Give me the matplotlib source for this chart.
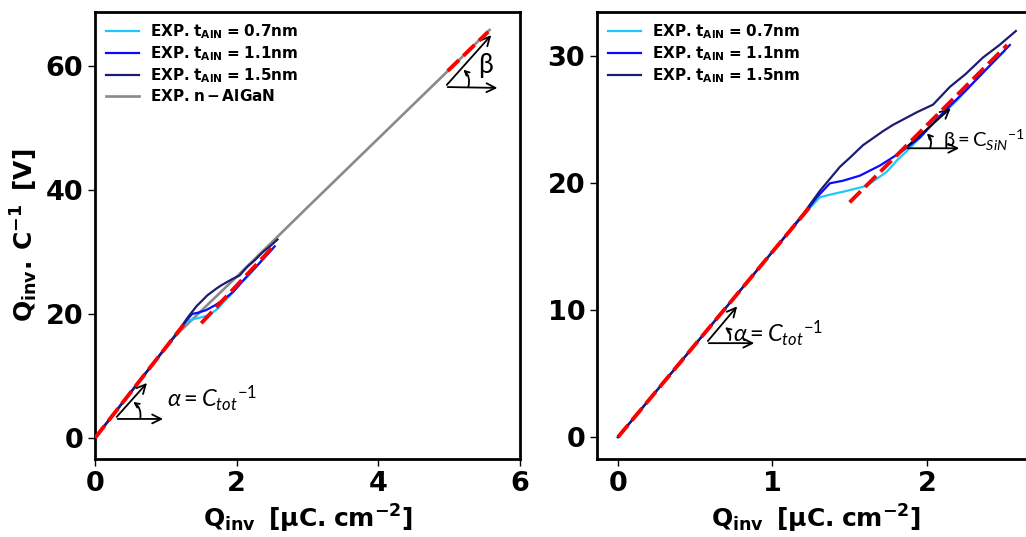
import matplotlib
matplotlib.use("Agg")
import matplotlib.pyplot as plt
import numpy as np

plt.rcParams['mathtext.fontset'] = 'custom'
plt.rcParams['mathtext.rm'] = 'Lato'
plt.rcParams['mathtext.it'] = 'Lato:italic'
plt.rcParams['mathtext.bf'] = 'DejaVu Sans:bold'
plt.rcParams['mathtext.sf'] = 'DejaVu Sans'
plt.rcParams['mathtext.default'] = 'bf'
plt.rcParams['font.family'] = ['DejaVu Sans']

# ---------------- data ----------------
# Q_inv [uC/cm^2] vs Q_inv/C [V]
q_07 = [0, 0.5, 1.0, 1.2, 1.307, 1.372, 1.48, 1.61, 1.74, 1.806, 1.9, 2.0, 2.2, 2.4, 2.5]
v_07 = [0, 7.3, 14.6, 17.5, 18.9, 19.1, 19.4, 19.8, 20.9, 21.8, 22.9, 24.2, 26.6, 29.2, 30.4]

q_11 = [0, 0.5, 1.0, 1.2, 1.288, 1.372, 1.456, 1.566, 1.696, 1.825, 1.955, 2.084, 2.149,
        2.25, 2.362, 2.45, 2.537]
v_11 = [0, 7.3, 14.6, 17.5, 18.9, 20.0, 20.2, 20.6, 21.4, 22.4, 23.6, 25.3, 26.1,
        27.3, 28.7, 29.8, 30.9]

q_15 = [0, 0.5, 1.0, 1.113, 1.2, 1.307, 1.437, 1.5, 1.586, 1.715, 1.78, 1.935, 2.04,
        2.149, 2.25, 2.362, 2.47, 2.576]
v_15 = [0, 7.3, 14.6, 16.3, 17.6, 19.4, 21.3, 22.0, 23.0, 24.1, 24.6, 25.6, 26.2,
        27.6, 28.6, 29.9, 30.9, 32.0]

q_algan = [0, 0.5, 1.0, 1.1, 1.2, 1.5, 2.0, 3.0, 4.0, 5.0, 5.57]
v_algan = [0, 7.3, 14.6, 16.0, 17.2, 20.5, 26.0, 37.2, 48.3, 59.4, 65.8]

# linear fits (red dashed)
fit_tot_q = [0, 1.25]
fit_tot_v = [0, 18.25]
fit_sin_q = [1.5, 2.52]
fit_sin_v = [18.5, 30.9]
fit_algan_q = [4.98, 5.55]
fit_algan_v = [59.2, 65.5]

labels = [r'$EXP.\,t_{AlN}\,{=}\,0.7nm$', r'$EXP.\,t_{AlN}\,{=}\,1.1nm$',
          r'$EXP.\,t_{AlN}\,{=}\,1.5nm$', r'$EXP.\,n-AlGaN$']
colors = ['#1ec8ff', '#0a0aff', '#1c1c72', '#8a8a8a']

left_xticks = [0, 2, 4, 6]
left_yticks = [0, 20, 40, 60]
right_xticks = [0, 1, 2]
right_yticks = [0, 10, 20, 30]

# ---------------- figure ----------------
W, H = 1026, 537
fig = plt.figure(figsize=(W / 100, H / 100), dpi=100)
ax1 = fig.add_axes([95 / W, 1 - 459 / H, 425 / W, 447 / H])
ax2 = fig.add_axes([597 / W, 1 - 459 / H, 438 / W, 447 / H])

lw = 1.6
red_kw = dict(color='red', lw=2.8, linestyle=(0, (4, 1.6)), zorder=5)

series = [(q_07, v_07), (q_11, v_11), (q_15, v_15)]
for ax in (ax1, ax2):
    for (q, v), c, lab in zip(series, colors[:3], labels[:3]):
        ax.plot(q, v, color=c, lw=lw, label=lab)

ax1.plot(q_algan, v_algan, color=colors[3], lw=lw + 0.3, label=labels[3], zorder=1.9)

for ax in (ax1, ax2):
    ax.plot(fit_tot_q, fit_tot_v, **red_kw)
    ax.plot(fit_sin_q, fit_sin_v, **red_kw)
ax1.plot(fit_algan_q, fit_algan_v, **red_kw)

ax1.set_xlim(0, 6)
ax1.set_ylim(-3.4, 68.7)
ax2.set_xlim(-0.136, 2.70)
ax2.set_ylim(-1.73, 33.5)

ax1.set_xticks(left_xticks)
ax1.set_yticks(left_yticks)
ax2.set_xticks(right_xticks)
ax2.set_yticks(right_yticks)

for ax in (ax1, ax2):
    for s in ax.spines.values():
        s.set_linewidth(2.0)
    ax.tick_params(labelsize=19.5, width=1.0, length=5)
    for t in ax.get_xticklabels() + ax.get_yticklabels():
        t.set_fontweight('bold')
    ax.set_xlabel(r'$Q_{inv}\ \ [\mu C.\,cm^{-2}]$', fontsize=18)
    ax.legend(loc='upper left', frameon=False, fontsize=11, handlelength=2.2,
              labelspacing=0.2, borderaxespad=0.3, handletextpad=0.7)

ax1.set_ylabel(r'$Q_{inv}.\ C^{-1}\ \ [V]$', fontsize=18)

# ---------------- annotations ----------------
akw = dict(arrowstyle='->', color='black', lw=1.3, mutation_scale=16)
ckw = dict(arrowstyle='->', color='black', lw=1.3, mutation_scale=8,
           connectionstyle='arc3,rad=0.3', shrinkA=0, shrinkB=0)


def angle_marker(ax, origin, hend, dend, cstart, cend):
    ax.annotate('', xy=hend, xytext=origin, arrowprops=akw)
    ax.annotate('', xy=dend, xytext=origin, arrowprops=akw)
    ax.annotate('', xy=cend, xytext=cstart, arrowprops=ckw)


alpha_txt = r'$\mathit{α{=}C_{tot}{}^{-1}}$'
beta_txt = r'$\mathrm{β{=}C}_{\mathit{SiN}}{}^{\mathrm{-1}}$'

angle_marker(ax1, (0.28, 3.06), (1.0, 3.06), (0.76, 9.2), (0.64, 3.2), (0.54, 5.8))
ax1.text(1.02, 5.0, alpha_txt, fontsize=17, va='baseline')

angle_marker(ax1, (4.94, 56.6), (5.72, 56.45), (5.62, 65.3), (5.27, 56.6), (5.2, 59.4))
ax1.text(5.4, 58.9, r'$\mathrm{β}$', fontsize=19, va='baseline')

angle_marker(ax2, (0.57, 7.4), (0.9, 7.4), (0.783, 10.47), (0.725, 7.64), (0.693, 8.66))
ax2.text(0.745, 7.5, alpha_txt, fontsize=17, va='baseline')

angle_marker(ax2, (1.858, 22.76), (2.227, 22.76), (2.168, 26.06), (2.02, 22.76), (2.0, 23.94))
ax2.text(2.104, 22.8, beta_txt, fontsize=14.5, va='baseline')

fig.savefig('out.png', dpi=100)
